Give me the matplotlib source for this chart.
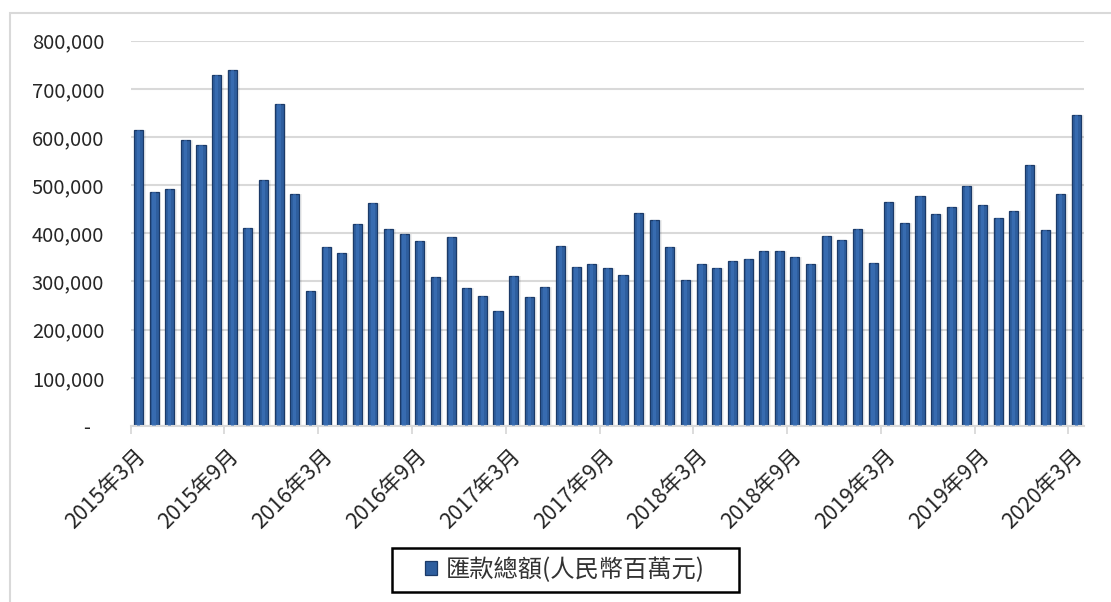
import numpy as np
import matplotlib
matplotlib.use("Agg")
import matplotlib.pyplot as plt
from matplotlib.patches import Rectangle

plt.rcParams['font.family'] = ['Noto Sans CJK TC', 'DejaVu Sans']

# 每月匯款總額 (人民幣百萬元), 2015年3月 ~ 2020年3月
months = [f"{y}年{m}月" for y in range(2015, 2021) for m in range(1, 13)][2:63]
remit = [615000, 485000, 493000, 594000, 584000, 728000, 740000, 411000, 510000, 669000,
         481000, 280000, 372000, 360000, 419000, 462000, 409000, 399000, 385000, 310000,
         392000, 287000, 270000, 238000, 312000, 268000, 288000, 374000, 330000, 337000,
         327000, 314000, 442000, 428000, 371000, 303000, 337000, 327000, 343000, 347000,
         363000, 363000, 350000, 337000, 394000, 387000, 409000, 339000, 466000, 421000,
         478000, 441000, 455000, 498000, 458000, 431000, 446000, 542000, 406000, 481000,
         646000]
tick_labels = ["2015年3月", "2015年9月", "2016年3月", "2016年9月", "2017年3月", "2017年9月",
               "2018年3月", "2018年9月", "2019年3月", "2019年9月", "2020年3月"]
yticks = [0, 100000, 200000, 300000, 400000, 500000, 600000, 700000, 800000]

fig = plt.figure(figsize=(11.11, 6.02), dpi=100)
ax = fig.add_axes([0.1176, 0.2924, 0.8582, 0.640])

x = np.arange(len(remit))
# 陰影 + 主體長條
ax.bar(x + 0.08, remit, width=0.78, color='black', alpha=0.06, zorder=1, linewidth=0)
ax.bar(x, remit, width=0.58, color='#2E5E9E', edgecolor='#1B3A68', linewidth=0.9,
       zorder=2, label='匯款總額(人民幣百萬元)')
ax.bar(x, remit, width=0.22, color='#3F76BF', linewidth=0, zorder=3, alpha=0.55)

ax.set_xlim(-0.5, len(remit) - 0.5)
ax.set_ylim(0, 800000)

ax.set_yticks(yticks)
ax.set_yticklabels([f"{v:,}" if v else "-   " for v in yticks])
ax.tick_params(axis='y', length=0, pad=19, labelsize=14.5, labelcolor='#262626')
ax.grid(axis='y', color='#d9d9d9', linewidth=1.5)
ax.set_axisbelow(True)

label_pos = [months.index(t) for t in tick_labels]
ax.set_xticks(np.array(label_pos) + 0.2)
ax.set_xticklabels(tick_labels, rotation=45, ha='right', va='center',
                   rotation_mode='anchor')
ax.tick_params(axis='x', length=0, pad=19, labelsize=15.5, labelcolor='#262626')
ax.set_xticks(np.array(label_pos) - 0.5, minor=True)
ax.tick_params(axis='x', which='minor', length=6, width=1.3, color='#d9d9d9')

for s in ['top', 'right', 'left']:
    ax.spines[s].set_visible(False)
ax.spines['bottom'].set_color('#d9d9d9')
ax.spines['bottom'].set_linewidth(1.5)

# 圖例 (外框另外畫)
fig.legend(loc='center', bbox_to_anchor=(0.5085, 0.0535), fontsize=17.5,
           frameon=False, handlelength=0.5, handleheight=0.5, handletextpad=0.35,
           labelcolor='#333333')
fig.patches.append(Rectangle((392 / 1111, 1 - 592 / 602), 347 / 1111, 44 / 602,
                             transform=fig.transFigure, fill=False,
                             edgecolor='black', linewidth=1.8))

# 圖表外框
fig.patches.append(Rectangle((10 / 1111, -0.05), 1.1, 1 - 13 / 602 + 0.05,
                             transform=fig.transFigure, fill=False,
                             edgecolor='#d9d9d9', linewidth=1.5))

fig.savefig('out.png', dpi=100)
